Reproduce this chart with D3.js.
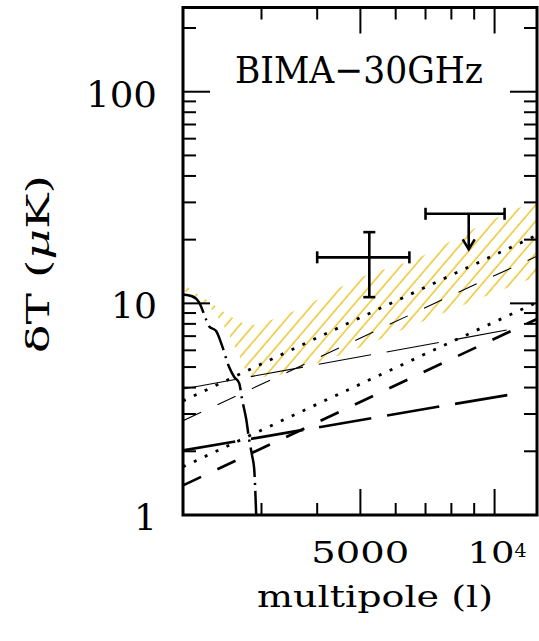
<!DOCTYPE html>
<html>
<head>
<meta charset="utf-8">
<script src="https://cdn.jsdelivr.net/npm/d3@7"></script>
<style>
  html, body { margin: 0; padding: 0; background: #fff; }
  svg { display: block; }
  text { font-family: "DejaVu Serif", serif; fill: #000; }
</style>
</head>
<body>
<svg id="chart" width="539" height="641"></svg>
<script>
// multipole values shared by the straight power-law curves
const lineL = [2000, 4000, 8000, 12450];
const dottedHi = [3.46, 6.88, 13.6, 21.0];
const dottedLo = [1.69, 3.34, 6.58, 10.1];
const dashThin = [2.79, 5.50, 10.9, 16.7];
const dashThick = [1.38, 2.74, 5.46, 8.44];

const longL = [2000, 4000, 8000, 10800];
const longThin = [3.94, 5.14, 6.70, 7.52];
const longThick = [2.02, 2.59, 3.33, 3.70];

// primary CMB damping tail (dot-dash)
const cmbL = [2000, 2096, 2173, 2253, 2288, 2373, 2448, 2538, 2604, 2673, 2715, 2772, 2814, 2859, 2889, 2904, 2919];
const cmbT = [11.0, 10.8, 10.1, 8.4, 7.8, 7.4, 6.3, 5.0, 4.5, 4.2, 3.5, 2.84, 2.28, 1.90, 1.65, 1.33, 1.0];

// hatched band
const bandL = [2000, 2140, 2290, 2450, 2630, 2770, 2840, 3070, 3650, 4900, 6780, 9110, 12450];
const bandHi = [12.3, 11.2, 10.2, 9.2, 8.4, 7.96, 7.9, 8.2, 9.45, 13.0, 16.5, 22.8, 30.9];
const bandLo = [11.6, 10.5, 9.6, 8.0, 6.1, 4.8, 4.5, 4.5, 4.9, 6.1, 8.1, 10.4, 13.4];

// BIMA measurement and upper limit
const detL = [5236, 4000, 6440];      // centre, min, max
const detT = [16.5, 10.7, 21.7];      // centre, min, max
const limL = [8750, 7000, 10530];     // centre, min, max
const limT = [26.5, 18.0];            // bar, arrow tip

const xMajor = [5000, 10000];
const xMinor = [3000, 4000, 6000, 7000, 8000, 9000];
const yMajor = [1, 10, 100];
const yMinor = [2, 3, 4, 5, 6, 7, 8, 9, 20, 30, 40, 50, 60, 70, 80, 90, 200];
const yTickLabels = ["1", "10", "100"];

const plot = { left: 183, right: 537, top: 7.5, bottom: 515 };

const svg = d3.select('#chart');

const x = d3.scaleLog().domain([2000, 12450]).range([plot.left, plot.right]);
const y = d3.scaleLog().domain([1, 250]).range([plot.bottom, plot.top]);

const defs = svg.append('defs');
defs.append('clipPath').attr('id', 'clip')
    .append('rect')
    .attr('x', plot.left).attr('y', plot.top)
    .attr('width', plot.right - plot.left)
    .attr('height', plot.bottom - plot.top);

const hatch = defs.append('pattern')
    .attr('id', 'hatch')
    .attr('patternUnits', 'userSpaceOnUse')
    .attr('width', 10.5).attr('height', 10.5)
    .attr('patternTransform', 'rotate(40.5)');
hatch.append('line')
    .attr('x1', 5).attr('y1', -1).attr('x2', 5).attr('y2', 11.5)
    .attr('stroke', '#ebc21f')
    .attr('stroke-width', 1.4);

const g = svg.append('g').attr('clip-path', 'url(#clip)');

// band
const band = bandL.map((l, i) => ({ l, lo: bandLo[i], hi: bandHi[i] }));
g.append('path')
    .datum(band)
    .attr('fill', 'url(#hatch)')
    .attr('d', d3.area()
        .x(d => x(d.l))
        .y0(d => y(d.lo))
        .y1(d => y(d.hi))
        .curve(d3.curveMonotoneX));

const line = d3.line().x(d => x(d[0])).y(d => y(d[1]));

const series = [
    { L: lineL, T: dottedHi, width: 2.8, dash: '3 9' },
    { L: lineL, T: dottedLo, width: 2.8, dash: '3 9' },
    { L: lineL, T: dashThin, width: 1.1, dash: '20 18' },
    { L: lineL, T: dashThick, width: 2.7, dash: '20 18' },
    { L: longL, T: longThin, width: 1.1, dash: '53 16' },
    { L: longL, T: longThick, width: 2.7, dash: '53 16' }
];

series.forEach(s => {
    g.append('path')
        .datum(d3.zip(s.L, s.T))
        .attr('fill', 'none')
        .attr('stroke', '#000')
        .attr('stroke-width', s.width)
        .attr('stroke-dasharray', s.dash)
        .attr('d', line);
});

g.append('path')
    .datum(d3.zip(cmbL, cmbT))
    .attr('fill', 'none')
    .attr('stroke', '#000')
    .attr('stroke-width', 2.5)
    .attr('stroke-dasharray', '30 6 2 6')
    .attr('d', line.curve(d3.curveMonotoneX));

// error bars
const bars = svg.append('g')
    .attr('stroke', '#000')
    .attr('stroke-width', 2.6)
    .attr('fill', 'none');
const cap = 6;

bars.append('line')
    .attr('x1', x(detL[1])).attr('x2', x(detL[2]))
    .attr('y1', y(detT[0])).attr('y2', y(detT[0]));
bars.append('line')
    .attr('x1', x(detL[0])).attr('x2', x(detL[0]))
    .attr('y1', y(detT[1])).attr('y2', y(detT[2]));
[detL[1], detL[2]].forEach(l => bars.append('line')
    .attr('x1', x(l)).attr('x2', x(l))
    .attr('y1', y(detT[0]) - cap).attr('y2', y(detT[0]) + cap));
[detT[1], detT[2]].forEach(t => bars.append('line')
    .attr('x1', x(detL[0]) - cap).attr('x2', x(detL[0]) + cap)
    .attr('y1', y(t)).attr('y2', y(t)));

bars.append('line')
    .attr('x1', x(limL[1])).attr('x2', x(limL[2]))
    .attr('y1', y(limT[0])).attr('y2', y(limT[0]));
[limL[1], limL[2]].forEach(l => bars.append('line')
    .attr('x1', x(l)).attr('x2', x(l))
    .attr('y1', y(limT[0]) - cap).attr('y2', y(limT[0]) + cap));
bars.append('line')
    .attr('x1', x(limL[0])).attr('x2', x(limL[0]))
    .attr('y1', y(limT[0])).attr('y2', y(limT[1]));
bars.append('path')
    .attr('d', `M${x(limL[0]) - 6},${y(limT[1]) - 10} L${x(limL[0])},${y(limT[1])} L${x(limL[0]) + 6},${y(limT[1]) - 10}`);

// ticks, all pointing inward
const ticks = svg.append('g').attr('stroke', '#000').attr('stroke-width', 2);
function xTicks(vals, len) {
    vals.forEach(v => {
        ticks.append('line').attr('x1', x(v)).attr('x2', x(v))
            .attr('y1', plot.bottom).attr('y2', plot.bottom - len);
        ticks.append('line').attr('x1', x(v)).attr('x2', x(v))
            .attr('y1', plot.top).attr('y2', plot.top + len);
    });
}
function yTicks(vals, len) {
    vals.forEach(v => {
        ticks.append('line').attr('y1', y(v)).attr('y2', y(v))
            .attr('x1', plot.left).attr('x2', plot.left + len);
        ticks.append('line').attr('y1', y(v)).attr('y2', y(v))
            .attr('x1', plot.right).attr('x2', plot.right - len);
    });
}
xTicks(xMajor, 26);
xTicks(xMinor, 12);
yTicks(yMajor, 27);
yTicks(yMinor, 13);

svg.append('rect')
    .attr('x', plot.left).attr('y', plot.top)
    .attr('width', plot.right - plot.left)
    .attr('height', plot.bottom - plot.top)
    .attr('fill', 'none')
    .attr('stroke', '#000')
    .attr('stroke-width', 3);

// tick labels
const yLabelLen = { '100': 71, '10': 46 };
yMajor.forEach((v, i) => {
    const t = svg.append('text')
        .attr('x', 157)
        .attr('y', y(v) + 15)
        .attr('text-anchor', 'end')
        .attr('font-size', 36)
        .text(yTickLabels[i]);
    if (yLabelLen[yTickLabels[i]]) {
        t.attr('textLength', yLabelLen[yTickLabels[i]]).attr('lengthAdjust', 'spacingAndGlyphs');
    }
});

svg.append('text')
    .attr('x', x(5000))
    .attr('y', 563)
    .attr('text-anchor', 'middle')
    .attr('font-size', 30)
    .attr('textLength', 98)
    .attr('lengthAdjust', 'spacingAndGlyphs')
    .text('5000');
svg.append('text')
    .attr('x', x(10000) - 27)
    .attr('y', 563)
    .attr('font-size', 30)
    .attr('textLength', 47)
    .attr('lengthAdjust', 'spacingAndGlyphs')
    .text('10');
svg.append('text')
    .attr('x', x(10000) + 20)
    .attr('y', 557)
    .attr('font-size', 19)
    .text('4');

// titles
svg.append('text')
    .attr('x', 235)
    .attr('y', 83)
    .attr('font-size', 38)
    .attr('textLength', 248)
    .attr('lengthAdjust', 'spacingAndGlyphs')
    .text('BIMA\u221230GHz');

svg.append('text')
    .attr('x', 375)
    .attr('y', 607)
    .attr('text-anchor', 'middle')
    .attr('font-size', 29)
    .attr('textLength', 236)
    .attr('lengthAdjust', 'spacingAndGlyphs')
    .text('multipole (l)');

const yt = svg.append('text')
    .attr('transform', 'translate(49,264) rotate(-90)')
    .attr('text-anchor', 'middle')
    .attr('font-size', 32)
    .attr('textLength', 178)
    .attr('lengthAdjust', 'spacingAndGlyphs');
yt.append('tspan').text('\u03b4T (');
yt.append('tspan').attr('font-style', 'italic').text('\u03bc');
yt.append('tspan').text('K)');
</script>
</body>
</html>
